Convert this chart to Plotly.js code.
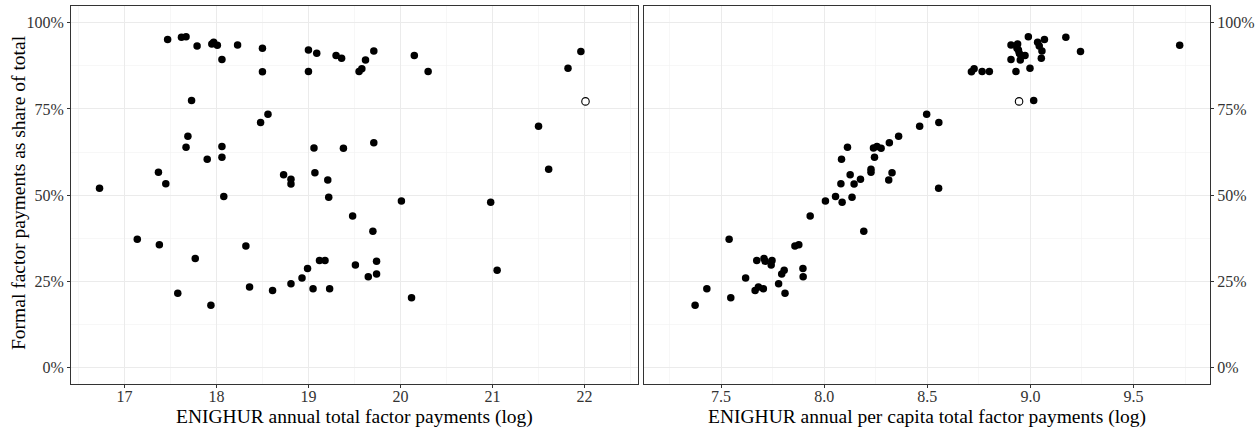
<!DOCTYPE html>
<html>
<head>
<meta charset="utf-8">
<script src="https://cdn.plot.ly/plotly-3.0.1.min.js"></script>
<style>
  html, body { margin: 0; padding: 0; background: #ffffff; }
  #chart { width: 1256px; height: 429px; }
</style>
</head>
<body>
<div id="chart"></div>
<script>
// Formal factor payments as share of total (%)
const share = [
  96.0, 95.8, 95.2, 94.4, 93.9, 93.6, 93.5, 93.3, 92.6, 92.1,
  91.8, 91.7, 91.2, 90.5, 90.5, 89.7, 89.4, 89.2, 86.8, 86.7,
  85.9, 85.9, 85.9, 85.8, 77.5, 77.2,
  73.5, 71.1, 70.0, 67.1, 65.2, 64.1, 63.9, 63.7, 63.6, 61.0,
  60.4, 57.5, 56.6, 56.5, 55.9, 54.6, 54.4, 53.3, 53.2, 52.0,
  49.6, 49.4, 48.3, 47.9, 43.9, 39.5, 37.2, 35.6, 35.2, 31.6,
  31.0, 31.0, 30.8, 29.7, 28.7, 28.2, 27.1, 26.3, 25.9, 24.3,
  23.3, 22.8, 22.8, 22.3, 21.5, 20.2, 18.0
];
// ENIGHUR annual total factor payments (log)
const logTotal = [
  17.67, 17.62, 17.47, 17.97, 17.95, 18.23, 18.01, 17.79, 18.50, 19.00,
  19.71, 21.96, 19.09, 19.30, 20.15, 19.36, 18.06, 19.62, 21.82, 19.58,
  19.00, 19.55, 20.30, 18.50, 17.73, 22.01,
  18.56, 18.48, 21.50, 17.69, 19.71, 18.06, 17.67, 19.06, 19.38, 18.06,
  17.90, 21.61, 17.37, 19.07, 18.73, 18.81, 19.21, 17.45, 18.81, 16.73,
  18.08, 19.22, 20.01, 20.98, 19.48, 19.70, 17.14, 17.38, 18.32, 17.77,
  19.12, 19.18, 19.74, 19.51, 18.99, 21.05, 19.74, 19.65, 18.93, 18.81,
  18.36, 19.05, 19.23, 18.61, 17.58, 20.12, 17.94
];
// ENIGHUR annual per capita total factor payments (log)
const logPerCapita = [
  8.990, 9.172, 9.068, 9.035, 8.938, 8.906, 9.724, 9.043, 8.935, 8.942,
  9.056, 9.243, 8.946, 8.955, 8.974, 9.053, 8.906, 8.951, 8.998, 8.727,
  8.930, 8.766, 8.801, 8.714, 9.016, 8.945,
  8.497, 8.556, 8.463, 8.361, 8.316, 8.256, 8.113, 8.239, 8.276, 8.244,
  8.084, 8.227, 8.227, 8.329, 8.126, 8.176, 8.313, 8.081, 8.145, 8.555,
  8.055, 8.135, 8.006, 8.087, 7.932, 8.192, 7.539, 7.877, 7.858, 7.708,
  7.673, 7.747, 7.714, 7.743, 7.897, 7.806, 7.794, 7.898, 7.619, 7.779,
  7.681, 7.431, 7.705, 7.665, 7.810, 7.547, 7.374
];
// 1 = drawn as a hollow point
const hollow = [
  0,0,0,0,0,0,0,0,0,0, 0,0,0,0,0,0,0,0,0,0, 0,0,0,0,0,1,
  0,0,0,0,0,0,0,0,0,0, 0,0,0,0,0,0,0,0,0,0,
  0,0,0,0,0,0,0,0,0,0, 0,0,0,0,0,0,0,0,0,0, 0,0,0,0,0,0,0
];
const yTickVals = [0, 25, 50, 75, 100];
const yTickText = ['0%', '25%', '50%', '75%', '100%'];
const xTitleLeft = 'ENIGHUR annual total factor payments (log)';
const xTitleRight = 'ENIGHUR annual per capita total factor payments (log)';
const yTitle = 'Formal factor payments as share of total';

function pick(arr, flag) { return arr.filter((_, i) => hollow[i] === flag); }

const FONT = '"Liberation Serif", "Times New Roman", serif';
const filledMarker = { color: '#000000', size: 7.5, line: { width: 0 } };
const openMarker = { color: '#ffffff', size: 7.5, line: { color: '#000000', width: 1.1 } };

const traces = [
  { type: 'scatter', mode: 'markers', x: pick(logTotal, 0), y: pick(share, 0), xaxis: 'x', yaxis: 'y', marker: filledMarker, hoverinfo: 'x+y' },
  { type: 'scatter', mode: 'markers', x: pick(logTotal, 1), y: pick(share, 1), xaxis: 'x', yaxis: 'y', marker: openMarker, hoverinfo: 'x+y' },
  { type: 'scatter', mode: 'markers', x: pick(logPerCapita, 0), y: pick(share, 0), xaxis: 'x2', yaxis: 'y2', marker: filledMarker, hoverinfo: 'x+y' },
  { type: 'scatter', mode: 'markers', x: pick(logPerCapita, 1), y: pick(share, 1), xaxis: 'x2', yaxis: 'y2', marker: openMarker, hoverinfo: 'x+y' }
];

const W = 1256, H = 429;
const mL = 70.5, mR = 46, mT = 5.5, mB = 45;
const pw = W - mL - mR;
const d1 = [0, (637.7 - mL) / pw];
const d2 = [(643.3 - mL) / pw, 1];

const gridCol = '#EBEBEB';
const lineCol = '#333333';
const tickFont = { family: FONT, size: 16, color: '#333333' };
const titleFont = { family: FONT, size: 19.5, color: '#000000' };

const baseX = {
  showline: true, mirror: true, linecolor: lineCol, linewidth: 1,
  ticks: 'outside', ticklen: 3, tickcolor: lineCol, tickwidth: 1,
  showgrid: true, gridcolor: gridCol, gridwidth: 1,
  zeroline: false, tickfont: tickFont, automargin: false
};
const baseY = Object.assign({}, baseX, {
  range: [-4.84, 104.9], tickmode: 'array', tickvals: yTickVals, ticktext: yTickText,
  minor: { tickmode: 'array', tickvals: [12.5, 37.5, 62.5, 87.5], showgrid: true, gridcolor: '#F2F2F2', gridwidth: 0.6, ticks: '' }
});

const layout = {
  width: W, height: H,
  margin: { l: mL, r: mR, t: mT, b: mB, pad: 0 },
  paper_bgcolor: '#ffffff', plot_bgcolor: '#ffffff',
  showlegend: false,
  font: { family: FONT },
  xaxis: Object.assign({}, baseX, {
    domain: d1, anchor: 'y', range: [16.42, 22.58], tick0: 17, dtick: 1, ticklabelstandoff: -5,
    minor: { dtick: 0.5, tick0: 16.5, showgrid: true, gridcolor: '#F2F2F2', gridwidth: 0.6, ticks: '' }
  }),
  yaxis: Object.assign({}, baseY, { domain: [0, 1], anchor: 'x', side: 'left' }),
  xaxis2: Object.assign({}, baseX, {
    domain: d2, anchor: 'y2', range: [7.124, 9.871], tick0: 7.5, dtick: 0.5, tickformat: '.1f', ticklabelstandoff: -5,
    minor: { dtick: 0.25, tick0: 7.25, showgrid: true, gridcolor: '#F2F2F2', gridwidth: 0.6, ticks: '' }
  }),
  yaxis2: Object.assign({}, baseY, { domain: [0, 1], anchor: 'x2', side: 'right' }),
  annotations: [
    { text: xTitleLeft, xref: 'x domain', yref: 'y domain', x: 0.5, y: 0, xanchor: 'center', yanchor: 'middle',
      yshift: -33, showarrow: false, font: titleFont },
    { text: xTitleRight, xref: 'x2 domain', yref: 'y2 domain', x: 0.5, y: 0, xanchor: 'center', yanchor: 'middle',
      yshift: -33, showarrow: false, font: titleFont },
    { text: yTitle, xref: 'paper', yref: 'paper', x: 0, y: 0.5, xanchor: 'center', yanchor: 'middle',
      xshift: -53, yshift: 2, textangle: -90, showarrow: false, font: titleFont }
  ]
};

Plotly.newPlot('chart', traces, layout, { displayModeBar: false, staticPlot: true });
</script>
</body>
</html>
